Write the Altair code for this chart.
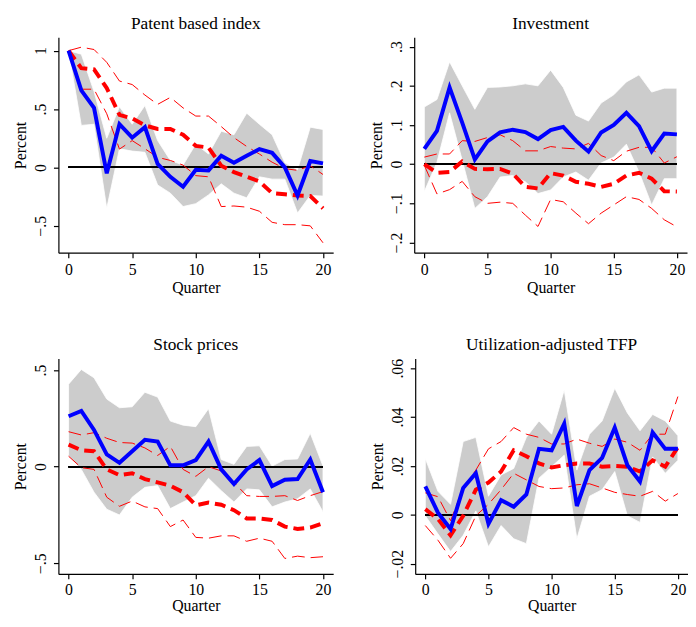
import altair as alt
import pandas as pd

quarters = list(range(21))

# Panel 1: Patent based index
patent_irf = [1.0, 0.66, 0.51, -0.05, 0.37, 0.255, 0.345, 0.03, -0.08, -0.165, -0.02, -0.025, 0.10, 0.04, 0.10, 0.157, 0.125, 0.0, -0.24, 0.055, 0.035]
patent_hi = [1.0, 0.97, 0.65, 0.25, 0.52, 0.37, 0.53, 0.23, 0.06, 0.02, 0.2, 0.115, 0.31, 0.28, 0.465, 0.37, 0.28, 0.04, -0.02, 0.345, 0.325]
patent_lo = [1.0, 0.36, 0.37, -0.35, 0.16, 0.14, 0.13, -0.15, -0.22, -0.335, -0.31, -0.235, -0.14, -0.22, -0.26, -0.08, -0.1, -0.1, -0.39, -0.24, -0.245]
patent_red = [1.0, 0.85, 0.84, 0.68, 0.45, 0.42, 0.36, 0.33, 0.33, 0.28, 0.185, 0.17, 0.015, -0.04, -0.08, -0.12, -0.22, -0.23, -0.24, -0.245, -0.35]
patent_red_hi = [1.0, 1.03, 1.01, 0.9, 0.74, 0.71, 0.62, 0.54, 0.6, 0.51, 0.44, 0.44, 0.35, 0.255, 0.18, 0.115, 0.045, -0.01, -0.025, 0.015, -0.06]
patent_red_lo = [1.0, 0.67, 0.67, 0.46, 0.157, 0.23, 0.16, 0.087, 0.06, 0.02, -0.07, -0.08, -0.335, -0.33, -0.34, -0.375, -0.47, -0.49, -0.49, -0.5, -0.645]

# Panel 2: Investment
inv_irf = [0.039, 0.085, 0.196, 0.106, 0.012, 0.058, 0.081, 0.088, 0.082, 0.064, 0.087, 0.095, 0.06, 0.032, 0.081, 0.1, 0.131, 0.097, 0.033, 0.078, 0.076]
inv_hi = [0.146, 0.165, 0.261, 0.2, 0.14, 0.196, 0.197, 0.2, 0.205, 0.2, 0.24, 0.196, 0.125, 0.11, 0.156, 0.177, 0.21, 0.228, 0.184, 0.194, 0.194]
inv_lo = [-0.07, 0.005, 0.131, 0.01, -0.113, -0.083, -0.033, -0.029, -0.045, -0.075, -0.066, -0.033, -0.02, -0.041, 0.003, 0.018, 0.051, -0.02, -0.104, -0.037, -0.037]
inv_red = [0.0, -0.022, -0.02, 0.007, -0.012, -0.013, -0.012, -0.024, -0.058, -0.062, -0.023, -0.029, -0.045, -0.05, -0.058, -0.05, -0.029, -0.022, -0.037, -0.069, -0.07]
inv_red_hi = [0.018, 0.026, 0.026, 0.06, 0.058, 0.068, 0.075, 0.06, 0.034, 0.034, 0.045, 0.041, 0.039, 0.053, 0.022, 0.009, 0.033, 0.043, 0.043, 0.003, 0.019]
inv_red_lo = [-0.003, -0.076, -0.065, -0.044, -0.083, -0.1, -0.097, -0.1, -0.13, -0.159, -0.09, -0.096, -0.125, -0.152, -0.125, -0.104, -0.083, -0.09, -0.113, -0.142, -0.16]

# Panel 3: Stock prices
stock_irf = [0.261, 0.288, 0.19, 0.063, 0.02, 0.08, 0.139, 0.13, 0.007, 0.007, 0.034, 0.13, -0.014, -0.09, -0.014, 0.034, -0.1, -0.068, -0.064, 0.037, -0.132]
stock_hi = [0.427, 0.503, 0.46, 0.35, 0.305, 0.31, 0.385, 0.36, 0.236, 0.215, 0.207, 0.3, 0.037, 0.012, 0.105, 0.108, 0.003, 0.037, 0.04, 0.173, 0.003]
stock_lo = [0.055, -0.014, -0.132, -0.22, -0.25, -0.158, -0.107, -0.098, -0.217, -0.183, -0.15, -0.06, -0.124, -0.183, -0.115, -0.12, -0.208, -0.183, -0.166, -0.115, -0.234]
stock_red = [0.114, 0.085, 0.08, -0.014, -0.044, -0.034, -0.064, -0.081, -0.098, -0.132, -0.2, -0.186, -0.197, -0.225, -0.268, -0.268, -0.276, -0.31, -0.322, -0.315, -0.293]
stock_red_hi = [0.181, 0.164, 0.176, 0.147, 0.125, 0.122, 0.097, 0.058, 0.105, -0.014, -0.05, 0.0, -0.022, -0.081, -0.15, -0.154, -0.154, -0.15, -0.175, -0.15, -0.129]
stock_red_lo = [0.054, -0.005, -0.014, -0.158, -0.205, -0.178, -0.208, -0.217, -0.31, -0.276, -0.366, -0.37, -0.358, -0.358, -0.386, -0.37, -0.386, -0.475, -0.463, -0.471, -0.466]

# Panel 4: Utilization-adjusted TFP
tfp_irf = [0.0116, 0.0009, -0.0058, 0.011, 0.017, -0.0037, 0.006, 0.0033, 0.0083, 0.027, 0.0264, 0.0373, 0.0036, 0.0183, 0.0233, 0.0357, 0.0203, 0.0136, 0.0337, 0.027, 0.027]
tfp_hi = [0.023, 0.0096, 0.0043, 0.030, 0.0317, 0.0076, 0.0163, 0.019, 0.0317, 0.0384, 0.033, 0.0511, 0.0183, 0.033, 0.0384, 0.0518, 0.0417, 0.0344, 0.0411, 0.0384, 0.0324]
tfp_lo = [-0.0004, -0.0078, -0.015, -0.0084, 0.0016, -0.0131, -0.0044, -0.0098, -0.0118, 0.015, 0.0197, 0.0244, -0.0098, 0.0076, 0.0103, 0.0177, -0.0004, -0.0031, 0.0237, 0.017, 0.0223]
tfp_red = [0.0023, -0.0017, -0.0084, -0.0004, 0.0103, 0.0132, 0.0177, 0.0264, 0.024, 0.021, 0.0194, 0.0203, 0.021, 0.021, 0.0197, 0.02, 0.0197, 0.0177, 0.0223, 0.0197, 0.0277]
tfp_red_hi = [0.009, 0.0074, -0.0024, 0.011, 0.0183, 0.027, 0.030, 0.0357, 0.033, 0.0317, 0.029, 0.029, 0.031, 0.0293, 0.028, 0.031, 0.0297, 0.0264, 0.033, 0.033, 0.0484]
tfp_red_lo = [-0.0044, -0.0104, -0.0178, -0.0118, -0.0004, 0.0043, 0.0103, 0.017, 0.0143, 0.0116, 0.0107, 0.011, 0.0123, 0.0127, 0.011, 0.0092, 0.0083, 0.0076, 0.0096, 0.0056, 0.0087]

x_ticks = [0, 5, 10, 15, 20]

FONT = "Liberation Serif"
LABEL_EXPR = "replace(format(datum.value, '.2~f'), '0.', '.')"


def panel(title, irf, hi, lo, red, red_hi, red_lo, ydomain, yticks, width,
          xlabel_pad, xtitle_pad):
    df = pd.DataFrame({"q": quarters, "irf": irf, "hi": hi, "lo": lo,
                       "red": red, "red_hi": red_hi, "red_lo": red_lo})
    xs = alt.X("q:Q", scale=alt.Scale(domain=[-0.8, 20.8], nice=False, zero=False),
               axis=alt.Axis(values=x_ticks, title="Quarter", labelAngle=0,
                             labelPadding=xlabel_pad, titlePadding=xtitle_pad,
                             tickSize=5))
    ys = alt.Scale(domain=ydomain, nice=False, zero=False)
    yax = alt.Axis(values=yticks, title="Percent", labelAngle=-90, labelAlign="center",
                   labelBaseline="bottom", labelExpr=LABEL_EXPR, labelPadding=5,
                   titlePadding=4, tickSize=5)
    base = alt.Chart(df)
    band = base.mark_area(color="#cccccc", stroke="white", strokeWidth=0.8).encode(
        x=xs, y=alt.Y("lo:Q", scale=ys, axis=yax), y2="hi:Q")
    zero = base.mark_rule(color="black", strokeWidth=1.2).encode(
        x=alt.datum(0), x2=alt.datum(20), y=alt.datum(0))
    thin_hi = base.mark_line(color="#ff0000", strokeWidth=1, strokeDash=[13, 6]).encode(
        x="q:Q", y="red_hi:Q")
    thin_lo = base.mark_line(color="#ff0000", strokeWidth=1, strokeDash=[13, 6]).encode(
        x="q:Q", y="red_lo:Q")
    thick = base.mark_line(color="#ff0000", strokeWidth=4, strokeDash=[11, 6]).encode(
        x="q:Q", y="red:Q")
    blue = base.mark_line(color="#0000ff", strokeWidth=4).encode(x="q:Q", y="irf:Q")
    return alt.layer(band, zero, thin_hi, thin_lo, thick, blue).properties(
        width=width, height=218,
        title=alt.TitleParams(title, font=FONT, fontSize=17.5, fontWeight="normal",
                              color="black", offset=5))


p1 = panel("Patent based index", patent_irf, patent_hi, patent_lo, patent_red,
           patent_red_hi, patent_red_lo, [-0.73, 1.115], [-0.5, 0, 0.5, 1], 278, 4, 2.5)
p2 = panel("Investment", inv_irf, inv_hi, inv_lo, inv_red, inv_red_hi, inv_red_lo,
           [-0.226, 0.324], [-0.2, -0.1, 0, 0.1, 0.2, 0.3], 276, 4, 2.5)
p3 = panel("Stock prices", stock_irf, stock_hi, stock_lo, stock_red, stock_red_hi,
           stock_red_lo, [-0.555, 0.56], [-0.5, 0, 0.5], 278, 3, 0)
p4 = panel("Utilization-adjusted TFP", tfp_irf, tfp_hi, tfp_lo, tfp_red, tfp_red_hi,
           tfp_red_lo, [-0.0242, 0.064], [-0.02, 0, 0.02, 0.04, 0.06], 276, 3, 0)

chart = alt.vconcat(
    alt.hconcat(p1, p2, spacing=36),
    alt.hconcat(p3, p4, spacing=36),
    spacing=40,
).properties(
    padding={"left": 5, "top": 3, "right": 0, "bottom": 0}, background="white"
).configure_view(
    stroke=None
).configure_axis(
    grid=False, domainColor="black", tickColor="black", labelColor="black",
    titleColor="black", labelFont=FONT, titleFont=FONT, labelFontSize=16,
    titleFontSize=16, titleFontWeight="normal", domainWidth=1.2, tickWidth=1.2
)

chart.save("out.html", embed_options={"renderer": "svg", "actions": False})
